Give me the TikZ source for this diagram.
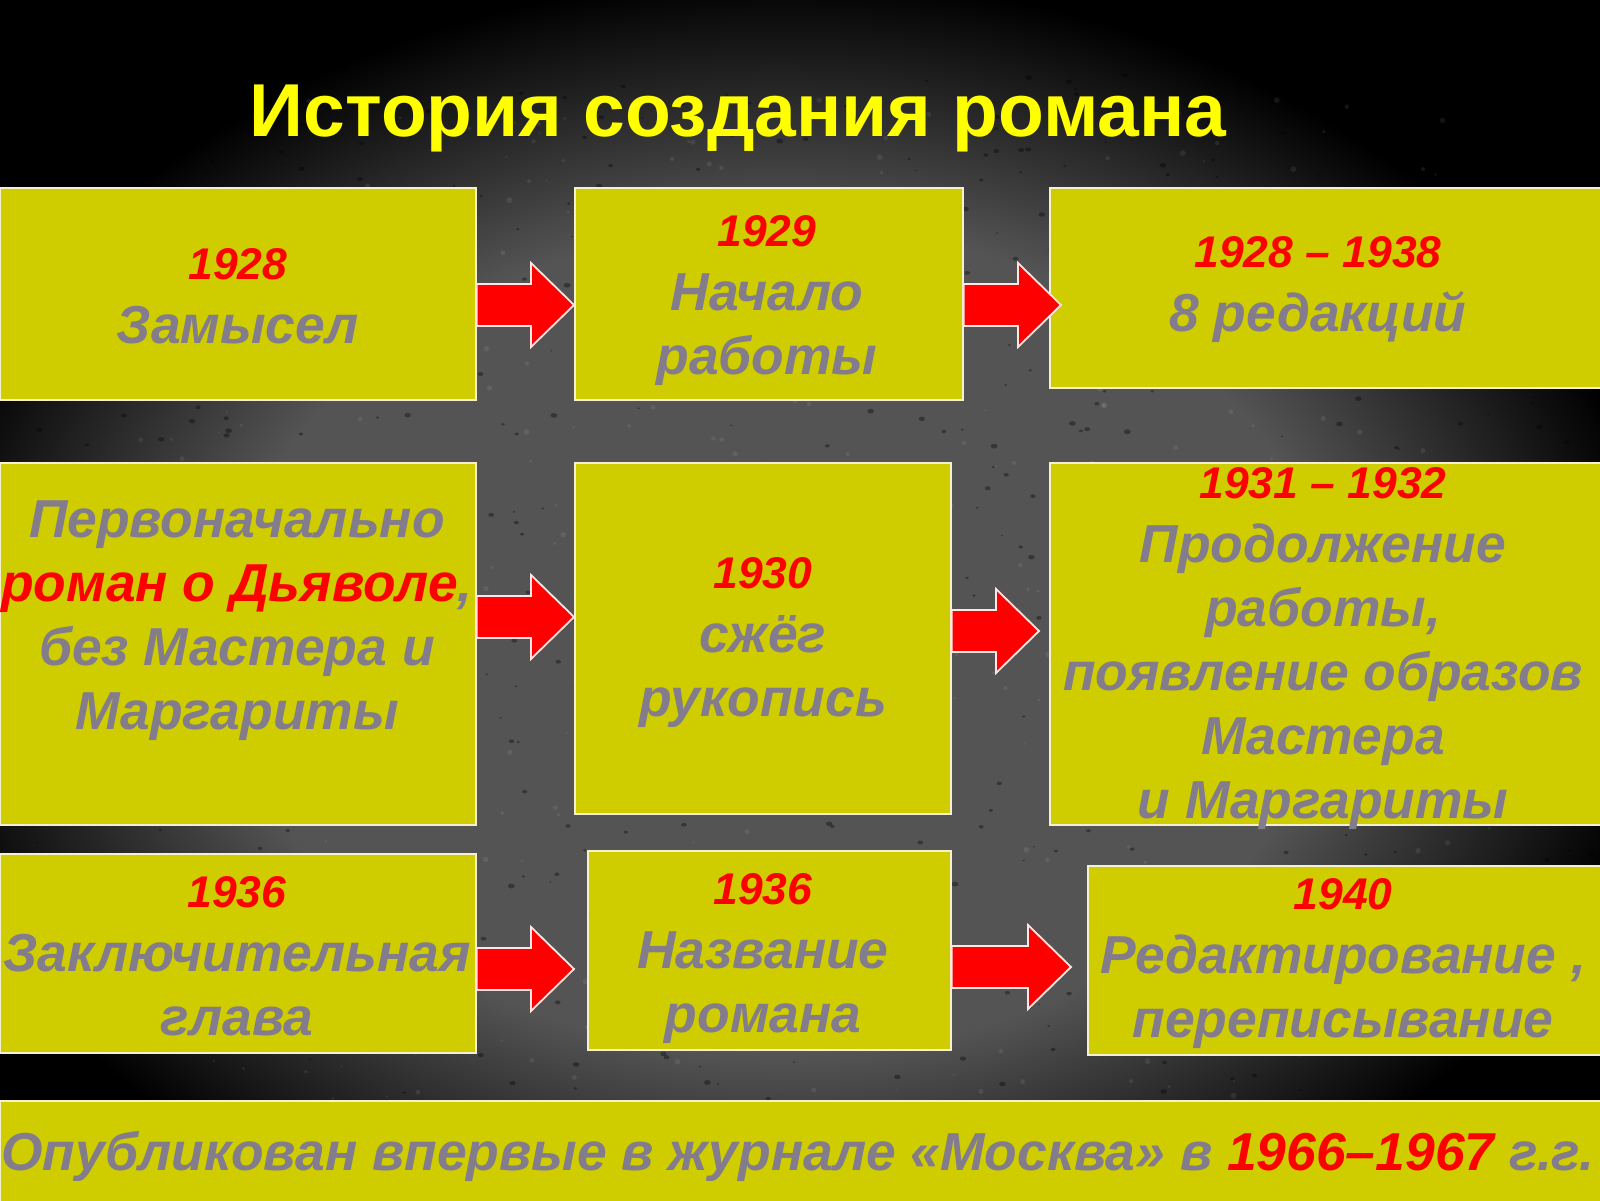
\documentclass[tikz,border=0pt]{standalone}
\usepackage{fontspec}
\setmainfont{Liberation Sans}
\usetikzlibrary{calc}
\definecolor{boxy}{RGB}{207,204,0}
\definecolor{txtg}{RGB}{130,124,140}
\definecolor{yr}{RGB}{255,0,0}
\definecolor{bgc}{RGB}{84,84,84}
\definecolor{boxline}{RGB}{245,240,205}
\definecolor{arrline}{RGB}{255,228,228}
\definecolor{ttl}{RGB}{255,255,0}
\pgfdeclareradialshading{vign}{\pgfpoint{0bp}{0bp}}{color(0bp)=(bgc); color(15bp)=(bgc); color(24bp)=(black); color(50bp)=(black)}
\newcommand\yrtext[1]{{\fontsize{22.2pt}{32pt}\selectfont\color{yr}#1}}
\newcommand\blockarrow[4]{%
  \draw[redarrow] let \p1=(#1.east), \p2=(#2.west), \p3=(0,#3) in
    (\x1,\y3+10.5pt) -- (\x2+#4-21.5pt,\y3+10.5pt) -- (\x2+#4-21.5pt,\y3+21pt)
    -- (\x2+#4,\y3) -- (\x2+#4-21.5pt,\y3-21pt) -- (\x2+#4-21.5pt,\y3-10.5pt)
    -- (\x1,\y3-10.5pt) -- cycle;}
\begin{document}
\begin{tikzpicture}[x=0.5pt,y=-0.5pt,
  box/.style={draw=boxline,line width=0.8pt,fill=boxy,anchor=north west,inner sep=0pt},
  txt/.style={align=center,text=txtg,font=\fontsize{26.7pt}{32pt}\selectfont\bfseries\itshape,inner sep=0pt},
  redarrow/.style={fill=yr,draw=arrline,line width=0.9pt,line join=miter}]
\useasboundingbox (0,0) rectangle (1600,1200);
\fill[black] (0,0) rectangle (1600,1200);
\shade[shading=vign] (-140,-50) rectangle (1700,1330);
% speckled texture
\pgfmathsetseed{4242}
\foreach \k in {1,...,700}{
  \pgfmathsetmacro\sx{rnd*1600}
  \pgfmathsetmacro\sy{70+rnd*1030}
  \pgfmathsetmacro\sr{1+rnd*2.5}
  \fill[black,opacity=0.35] (\sx,\sy) ellipse ({\sr} and {0.7*\sr});
}
\foreach \k in {1,...,400}{
  \pgfmathsetmacro\sx{100+rnd*1400}
  \pgfmathsetmacro\sy{100+rnd*1000}
  \pgfmathsetmacro\sr{1+rnd*2}
  \fill[white,opacity=0.08] (\sx,\sy) circle ({\sr});
}

\node[font=\fontsize{37.5pt}{40pt}\selectfont\bfseries, text=ttl, anchor=base] (title) at (738,136) {История создания романа};

% boxes
\node[box,minimum width=238pt,minimum height=106pt] (A) at (-1,187) {};
\node[box,minimum width=194pt,minimum height=106pt] (B) at (574,187) {};
\node[box,minimum width=277pt,minimum height=100pt] (C) at (1049,187) {};
\node[box,minimum width=238pt,minimum height=181pt] (D) at (-1,462) {};
\node[box,minimum width=188pt,minimum height=175.5pt] (E) at (574,462) {};
\node[box,minimum width=277pt,minimum height=181pt] (F) at (1049,462) {};
\node[box,minimum width=238pt,minimum height=99.5pt] (G) at (-1,853) {};
\node[box,minimum width=181.5pt,minimum height=99.5pt] (H) at (587,850) {};
\node[box,minimum width=258pt,minimum height=94.5pt] (I) at (1087,865) {};
\node[box,minimum width=803pt,minimum height=52pt] (P) at (-1,1100) {};

% texts
\node[txt] (tA) at (238,296) {\yrtext{1928}\\Замысел};
\node[txt] (tB) at (767,301) {\yrtext{1929}\\Начало\\работы};
\node[txt] (tC) at (1318,290) {\yrtext{1928 – 1938}\\8 редакций};
\node[txt] (tD) at (237,621) {Первоначально\\\textcolor{yr}{роман о Дьяволе},\\без Мастера и\\Маргариты};
\node[txt] (tE) at (763,643) {\yrtext{1930}\\сжёг\\рукопись};
\node[txt] (tF) at (1323,649) {\yrtext{1931 – 1932}\\Продолжение\\работы,\\появление образов\\Мастера\\и Маргариты};
\node[txt] (tG) at (237,956) {\yrtext{1936}\\Заключительная\\глава};
\node[txt] (tH) at (763,959) {\yrtext{1936}\\Название\\романа};
\node[txt] (tI) at (1343,964) {\yrtext{1940}\\Редактирование ,\\переписывание};
\node[txt,anchor=base] (tP) at (798,1170) {Опубликован впервые в журнале «Москва» в \textcolor{yr}{1966–1967} г.г.};

% arrows
\blockarrow{A}{B}{305}{0pt}
\blockarrow{B}{C}{305}{6pt}
\blockarrow{D}{E}{617}{0pt}
\blockarrow{E}{F}{631}{-5pt}
\blockarrow{G}{H}{969}{-6.5pt}
\blockarrow{H}{I}{967}{-8pt}
\end{tikzpicture}
\end{document}
